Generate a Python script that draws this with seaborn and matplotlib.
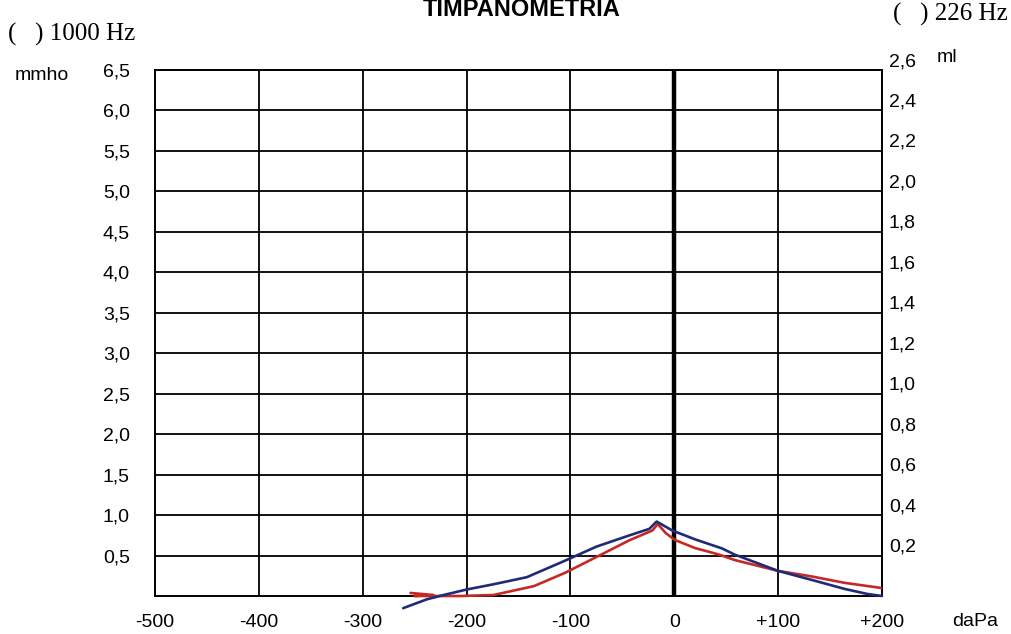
import numpy as np
import pandas as pd
import matplotlib
matplotlib.use("Agg")
import matplotlib.pyplot as plt
import seaborn as sns

# ---------------- data ----------------
pressure_ticks = [-500, -400, -300, -200, -100, 0, 100, 200]
pressure_labels = ["-500", "-400", "-300", "-200", "-100", "0", "+100", "+200"]
ml_ticks = [0.2, 0.4, 0.6, 0.8, 1.0, 1.2, 1.4, 1.6, 1.8, 2.0, 2.2, 2.4, 2.6]
ml_labels = ["0,2", "0,4", "0,6", "0,8", "1,0", "1,2", "1,4", "1,6", "1,8",
             "2,0", "2,2", "2,4", "2,6"]
mmho_labels = ["0,5", "1,0", "1,5", "2,0", "2,5", "3,0", "3,5", "4,0", "4,5",
               "5,0", "5,5", "6,0", "6,5"]

red_pressure = [-254, -232, -250, -205, -174, -135, -105, -76, -43, -21, -16,
                -8, 1, 20, 43, 58, 100, 132, 164, 199]
red_ml = [0.015, 0.005, 0.0, 0.0, 0.005, 0.049, 0.115, 0.19, 0.276, 0.324,
          0.356, 0.31, 0.276, 0.237, 0.205, 0.178, 0.124, 0.097, 0.065, 0.04]

blue_pressure = [-261, -238, -222, -200, -174, -142, -105, -75, -43, -24, -17,
                 -2, 20, 46, 58, 100, 132, 164, 186, 200]
blue_ml = [-0.06, -0.016, 0.005, 0.032, 0.058, 0.093, 0.175, 0.244, 0.30,
           0.332, 0.368, 0.324, 0.28, 0.235, 0.205, 0.124, 0.08, 0.035, 0.01, 0.0]

# ---------------- style ----------------
sns.set_theme(style="white")
plt.rcParams['font.family'] = ['Liberation Sans', 'DejaVu Sans']

W, H = 1012, 634
FS = 14
fig = plt.figure(figsize=(W / 100, H / 100), dpi=100)
fig.patch.set_facecolor("white")
ax = fig.add_axes([155 / W, 1 - 596 / H, 727 / W, 526 / H])

df_red = pd.DataFrame({"pressure": red_pressure, "ml": red_ml})
df_blue = pd.DataFrame({"pressure": blue_pressure, "ml": blue_ml})
sns.lineplot(data=df_red, x="pressure", y="ml", sort=False, estimator=None,
             color="#c62828", lw=1.9, ax=ax, clip_on=False, zorder=5)
sns.lineplot(data=df_blue, x="pressure", y="ml", sort=False, estimator=None,
             color="#1f2a78", lw=1.9, ax=ax, clip_on=False, zorder=6)

ax.set_xlim(-500, 200)
ax.set_ylim(0, 2.6)
ax.set_xticks(pressure_ticks)
ax.set_xticklabels(pressure_labels, fontsize=FS)
ax.set_yticks(ml_ticks)
ax.set_yticklabels(mmho_labels, fontsize=FS)
ax.set_xlabel("")
ax.set_ylabel("")
ax.grid(True, color="black", lw=1.3)
ax.set_axisbelow(True)
for i, t in enumerate(pressure_ticks):
    if t == 0:
        ax.get_xgridlines()[i].set_linewidth(3.2)
ax.tick_params(axis="both", length=0, colors="black")
ax.tick_params(axis="y", pad=18)
ax.tick_params(axis="x", pad=13)
for s in ax.spines.values():
    s.set_color("black")
    s.set_linewidth(1.4)

ax2 = ax.twinx()
ax2.set_ylim(0, 2.6)
ax2.set_yticks(ml_ticks)
ax2.set_yticklabels(ml_labels, fontsize=FS)
ax2.tick_params(axis="y", length=0, pad=5, colors="black")
for lbl in ax2.get_yticklabels():
    lbl.set_verticalalignment("bottom")
ax2.grid(False)
for s in ax2.spines.values():
    s.set_visible(False)

# ---------------- texts ----------------
fig.text(522 / W, 1 - 16 / H, "TIMPANOMETRIA", ha="center", va="baseline",
         fontsize=17, fontweight="bold", color="black")
fig.text(8 / W, 1 - 41 / H, "(   ) 1000 Hz", ha="left", va="baseline",
         fontsize=18, family=["Liberation Serif", "DejaVu Serif"], color="black")
fig.text(893 / W, 1 - 21 / H, "(   ) 226 Hz", ha="left", va="baseline",
         fontsize=18, family=["Liberation Serif", "DejaVu Serif"], color="black")
fig.text(15 / W, 1 - 75 / H, "mmho", ha="left", va="center", fontsize=FS,
         color="black")
fig.text(937 / W, 1 - 58 / H, "ml", ha="left", va="center", fontsize=FS,
         color="black")
fig.text(952 / W, 1 - 622 / H, "daPa", ha="left", va="center", fontsize=FS,
         color="black")

fig.savefig("out.png", dpi=100, facecolor="white")
